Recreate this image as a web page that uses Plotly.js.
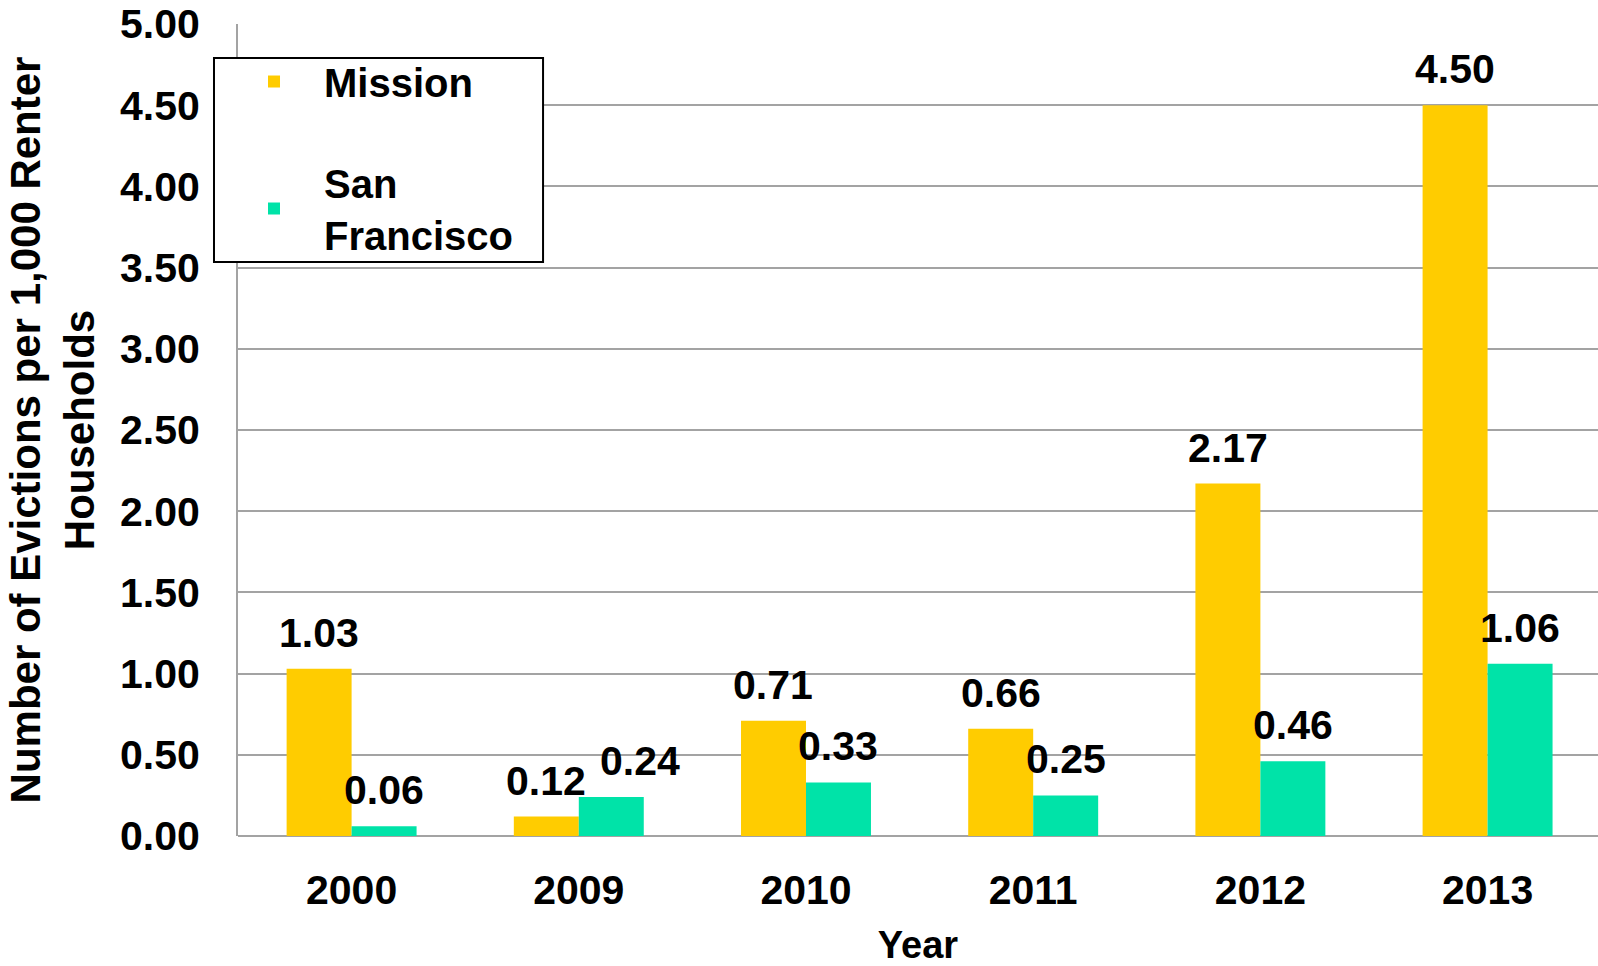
<!DOCTYPE html>
<html>
<head>
<meta charset="utf-8">
<script src="https://cdn.plot.ly/plotly-3.0.1.min.js"></script>
<style>html,body{margin:0;padding:0;background:#fff;} #chart{width:1598px;height:966px;}</style>
</head>
<body>
<div id="chart"></div>
<script>
const years = ["2000", "2009", "2010", "2011", "2012", "2013"];
const mission = [1.03, 0.12, 0.71, 0.66, 2.17, 4.50];
const sanFrancisco = [0.06, 0.24, 0.33, 0.25, 0.46, 1.06];
const seriesNames = ["Mission", "San<br>Francisco"];
const colors = ["#FFCC00", "#00E3A8"];
const yTitle = "Number of Evictions per 1,000 Renter<br>Households";
const xTitle = "Year";

const FONT = "Liberation Sans, Arial, Helvetica, sans-serif";
function bigFont(size) { return {family: FONT, size: size, color: "#000", weight: 700}; }

const traces = [mission, sanFrancisco].map((vals, i) => ({
  type: "bar",
  x: years,
  y: vals,
  name: seriesNames[i],
  legendgroup: "g" + i,
  marker: {color: colors[i], line: {width: 0}},
  hoverinfo: "x+y+name"
}));

// label nudge (px) to avoid collisions, like the original chart does
function extraShift(series, idx) {
  return (series === 1 && idx === 1) ? 29 : 0;
}

const annotations = [];
[mission, sanFrancisco].forEach((vals, i) => {
  vals.forEach((v, j) => {
    annotations.push({
      x: j, y: v, xref: "x", yref: "y",
      text: v.toFixed(2), showarrow: false,
      xanchor: "center", yanchor: "bottom",
      xshift: (i === 0 ? -32.5 : 32.5) + extraShift(i, j), yshift: 11,
      font: bigFont(41)
    });
  });
});

const layout = {
  width: 1598, height: 966,
  margin: {l: 238, r: 0, t: 24, b: 130, pad: 0},
  paper_bgcolor: "#fff", plot_bgcolor: "#fff",
  barmode: "group",
  bargap: 0.428, bargroupgap: 0,
  font: {family: FONT, color: "#000"},
  showlegend: true,
  legend: {
    x: -0.0103, y: 0.9692, xanchor: "left", yanchor: "top",
    bgcolor: "rgba(0,0,0,0)", borderwidth: 0,
    font: bigFont(40),
    traceorder: "grouped", tracegroupgap: 46,
    itemwidth: 90
  },
  shapes: [{
    type: "rect", xref: "paper", yref: "paper",
    x0: -0.01765, x1: 0.2243, y0: 0.7069, y1: 0.9581,
    fillcolor: "#fff", line: {color: "#000", width: 2}, layer: "above"
  }],
  xaxis: {
    type: "category",
    range: [-0.5, 5.486],
    showgrid: false, zeroline: false,
    showline: false,
    ticks: "", ticklabelstandoff: 26,
    tickfont: bigFont(41),
    title: {text: xTitle, font: bigFont(38), standoff: 25},
    fixedrange: true
  },
  yaxis: {
    range: [0, 5], dtick: 0.5, tick0: 0, tickformat: ".2f",
    showgrid: true, gridcolor: "#a3a3a3", gridwidth: 2,
    zeroline: true, zerolinecolor: "#a3a3a3", zerolinewidth: 2,
    showline: true, linecolor: "#a3a3a3", linewidth: 2,
    ticks: "", ticklabelstandoff: 28,
    tickfont: bigFont(41),
    title: {text: yTitle, font: bigFont(42), standoff: 12},
    fixedrange: true
  },
  annotations: annotations
};

Plotly.newPlot("chart", traces, layout, {displayModeBar: false, staticPlot: true});
</script>
</body>
</html>
